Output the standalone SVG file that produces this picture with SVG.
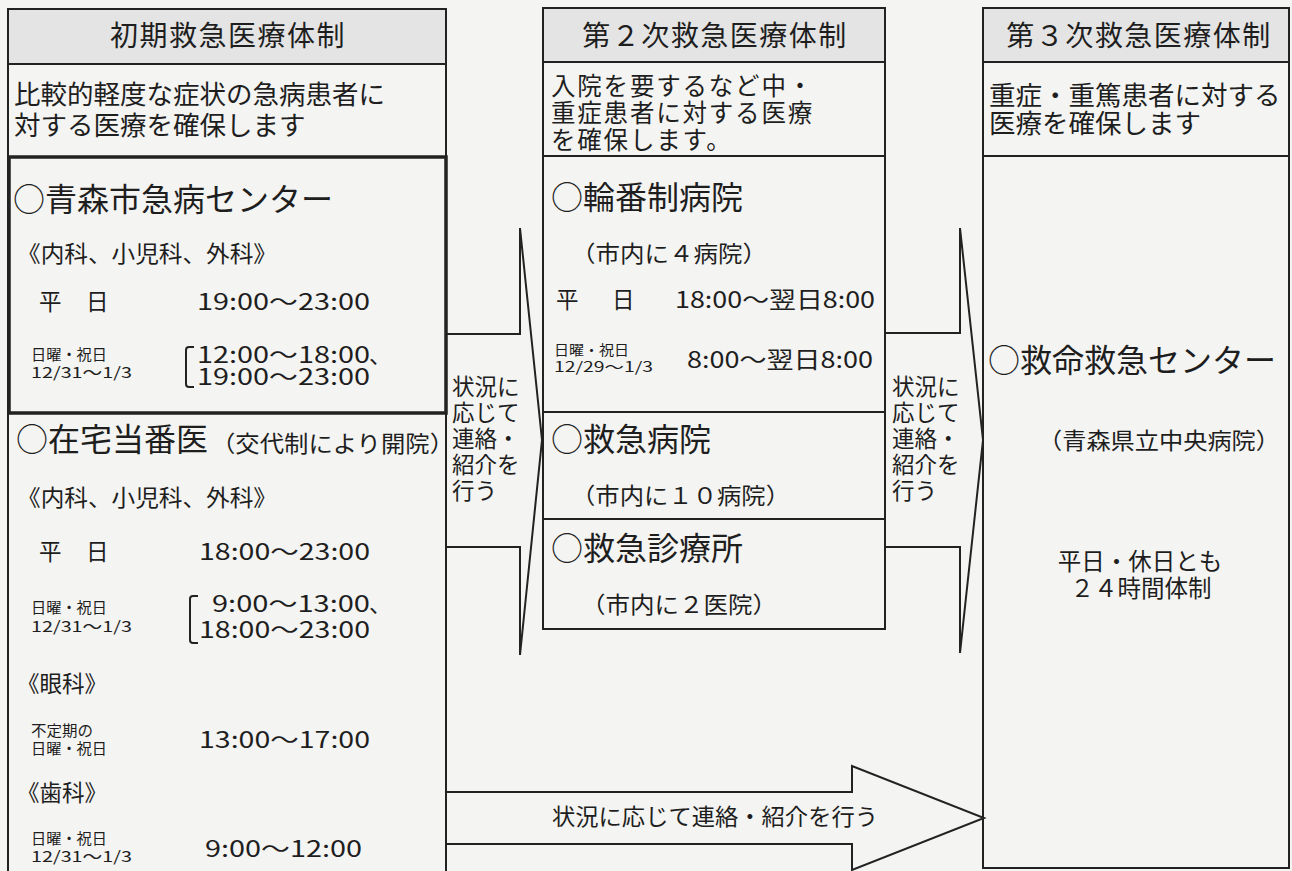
<svg xmlns="http://www.w3.org/2000/svg" width="1292" height="871" viewBox="0 0 1292 871">
<style>
  text { font-family: "Noto Sans CJK JP", "Noto Sans", sans-serif; fill: #1e1e1e; }
  .hdr { font-size: 28px; letter-spacing: 1.5px; text-anchor: middle; }
  .desc { font-size: 26.5px; }
  .desc2 { font-size: 24.5px; letter-spacing: 1.8px; }
  .big { font-size: 32px; }
  .med { font-size: 22.5px; }
  .sm { font-size: 15px; }
  .time { font-size: 22.5px; }
  .box { fill: none; stroke: #222; stroke-width: 2; }
  .thick { fill: none; stroke: #222; stroke-width: 3.5; }
  .head { fill: #e4e4e4; stroke: #222; stroke-width: 2; }
  .line { stroke: #222; stroke-width: 2; }
  .arrow { fill: #f4f4f2; stroke: #222; stroke-width: 2; stroke-linejoin: miter; }
</style>
<rect x="0" y="0" width="1292" height="871" fill="#f4f4f2"/>

<g id="connectors">
  <path class="arrow" d="M446 334 H520 V228 L542 440 L520 655 V547 H446"/>
  <path class="arrow" d="M885 333 H960 V228 L983 440 L960 653 V547 H885"/>
  <path class="arrow" d="M446 792 H852 V766 L984 818 L852 870 V844 H446"/>
  <text class="med" x="452" y="395">状況に</text>
  <text class="med" x="452" y="421">応じて</text>
  <text class="med" x="452" y="447">連絡・</text>
  <text class="med" x="452" y="473">紹介を</text>
  <text class="med" x="452" y="499">行う</text>
  <text class="med" x="892" y="395">状況に</text>
  <text class="med" x="892" y="421">応じて</text>
  <text class="med" x="892" y="447">連絡・</text>
  <text class="med" x="892" y="473">紹介を</text>
  <text class="med" x="892" y="499">行う</text>
  <text class="med" x="552" y="825" textLength="326" lengthAdjust="spacingAndGlyphs" style="font-size:23px">状況に応じて連絡・紹介を行う</text>
</g>

<g id="primary">
  <rect class="box" x="8" y="9" width="438" height="870"/>
  <rect class="head" x="8" y="9" width="438" height="55"/>
  <text class="hdr" x="228" y="46">初期救急医療体制</text>
  <line class="line" x1="8" y1="157" x2="446" y2="157"/>
  <text class="desc" x="14" y="104">比較的軽度な症状の急病患者に</text>
  <text class="desc" x="14" y="135">対する医療を確保します</text>
</g>

<g id="kyubyo-center">
  <rect class="thick" x="9" y="157" width="437" height="256"/>
  <text class="big" x="13" y="211">○青森市急病センター</text>
  <text class="med" x="17" y="262" textLength="260" lengthAdjust="spacingAndGlyphs">《内科、小児科、外科》</text>
  <text class="med" x="39" y="310">平</text>
  <text class="med" x="86" y="310">日</text>
  <text class="time" x="197" y="310" textLength="173" lengthAdjust="spacingAndGlyphs">19:00～23:00</text>
  <text class="sm" x="31" y="360" textLength="76" lengthAdjust="spacingAndGlyphs">日曜・祝日</text>
  <text class="sm" x="31" y="378" textLength="101" lengthAdjust="spacingAndGlyphs">12/31～1/3</text>
  <path class="line" fill="none" d="M194 347 H189 Q186 347 186 350 V384 Q186 387 189 387 H194"/>
  <text class="time" x="197" y="363" textLength="173" lengthAdjust="spacingAndGlyphs">12:00～18:00</text>
  <text class="time" x="369" y="363">、</text>
  <text class="time" x="197" y="385" textLength="173" lengthAdjust="spacingAndGlyphs">19:00～23:00</text>
</g>

<g id="zaitaku">
  <text class="big" x="16" y="451">○在宅当番医</text>
  <text class="med" x="211" y="452" textLength="243" lengthAdjust="spacingAndGlyphs">（交代制により開院）</text>
  <text class="med" x="17" y="506" textLength="260" lengthAdjust="spacingAndGlyphs">《内科、小児科、外科》</text>
  <text class="med" x="39" y="560">平</text>
  <text class="med" x="86" y="560">日</text>
  <text class="time" x="199" y="560" textLength="171" lengthAdjust="spacingAndGlyphs">18:00～23:00</text>
  <text class="sm" x="31" y="613" textLength="76" lengthAdjust="spacingAndGlyphs">日曜・祝日</text>
  <text class="sm" x="31" y="632" textLength="101" lengthAdjust="spacingAndGlyphs">12/31～1/3</text>
  <path class="line" fill="none" d="M198 596 H193 Q190 596 190 599 V640 Q190 643 193 643 H198"/>
  <text class="time" x="212" y="612" textLength="158" lengthAdjust="spacingAndGlyphs">9:00～13:00</text>
  <text class="time" x="369" y="612">、</text>
  <text class="time" x="199" y="638" textLength="171" lengthAdjust="spacingAndGlyphs">18:00～23:00</text>
  <text class="med" x="17" y="692">《眼科》</text>
  <text class="sm" x="31" y="736" textLength="62" lengthAdjust="spacingAndGlyphs">不定期の</text>
  <text class="sm" x="31" y="754" textLength="76" lengthAdjust="spacingAndGlyphs">日曜・祝日</text>
  <text class="time" x="199" y="748" textLength="171" lengthAdjust="spacingAndGlyphs">13:00～17:00</text>
  <text class="med" x="17" y="801">《歯科》</text>
  <text class="sm" x="31" y="844" textLength="76" lengthAdjust="spacingAndGlyphs">日曜・祝日</text>
  <text class="sm" x="31" y="862" textLength="101" lengthAdjust="spacingAndGlyphs">12/31～1/3</text>
  <text class="time" x="205" y="857" textLength="157" lengthAdjust="spacingAndGlyphs">9:00～12:00</text>
</g>

<g id="secondary">
  <rect class="box" x="543" y="8" width="342" height="621"/>
  <rect class="head" x="543" y="8" width="342" height="54"/>
  <text class="hdr" x="715" y="46">第２次救急医療体制</text>
  <line class="line" x1="543" y1="156" x2="885" y2="156"/>
  <text class="desc2" x="551" y="95">入院を要するなど中・</text>
  <text class="desc2" x="551" y="122">重症患者に対する医療</text>
  <text class="desc2" x="551" y="149">を確保します。</text>
</g>

<g id="rinban">
  <line class="line" x1="543" y1="412" x2="885" y2="412"/>
  <text class="big" x="551" y="209">○輪番制病院</text>
  <text class="med" x="571" y="262" textLength="196" lengthAdjust="spacingAndGlyphs">（市内に４病院）</text>
  <text class="med" x="556" y="308">平</text>
  <text class="med" x="612" y="308">日</text>
  <text class="time" x="675" y="308" textLength="200" lengthAdjust="spacingAndGlyphs">18:00～翌日8:00</text>
  <text class="sm" x="554" y="355" textLength="75" lengthAdjust="spacingAndGlyphs" style="font-size:14px">日曜・祝日</text>
  <text class="sm" x="554" y="372" textLength="99" lengthAdjust="spacingAndGlyphs" style="font-size:14px">12/29～1/3</text>
  <text class="time" x="687" y="368" textLength="186" lengthAdjust="spacingAndGlyphs">8:00～翌日8:00</text>
</g>

<g id="kyukyu-byoin">
  <line class="line" x1="543" y1="519" x2="885" y2="519"/>
  <text class="big" x="551" y="451">○救急病院</text>
  <text class="med" x="571" y="504" textLength="219" lengthAdjust="spacingAndGlyphs">（市内に１０病院）</text>
</g>

<g id="kyukyu-shinryojo">
  <text class="big" x="551" y="560">○救急診療所</text>
  <text class="med" x="581" y="613" textLength="196" lengthAdjust="spacingAndGlyphs">（市内に２医院）</text>
</g>

<g id="tertiary">
  <rect class="box" x="983" y="8" width="306" height="860"/>
  <rect class="head" x="983" y="8" width="306" height="54"/>
  <text class="hdr" x="1139" y="46">第３次救急医療体制</text>
  <line class="line" x1="983" y1="156" x2="1289" y2="156"/>
  <text class="desc" x="989" y="105">重症・重篤患者に対する</text>
  <text class="desc" x="989" y="133">医療を確保します</text>
</g>

<g id="kyumei-center">
  <text class="big" x="988" y="372">○救命救急センター</text>
  <text class="med" x="1038" y="449" textLength="242" lengthAdjust="spacingAndGlyphs">（青森県立中央病院）</text>
  <text class="med" x="1140" y="570" text-anchor="middle" style="font-size:23.5px">平日・休日とも</text>
  <text class="med" x="1141" y="597" text-anchor="middle" style="font-size:23.5px">２４時間体制</text>
</g>
</svg>
